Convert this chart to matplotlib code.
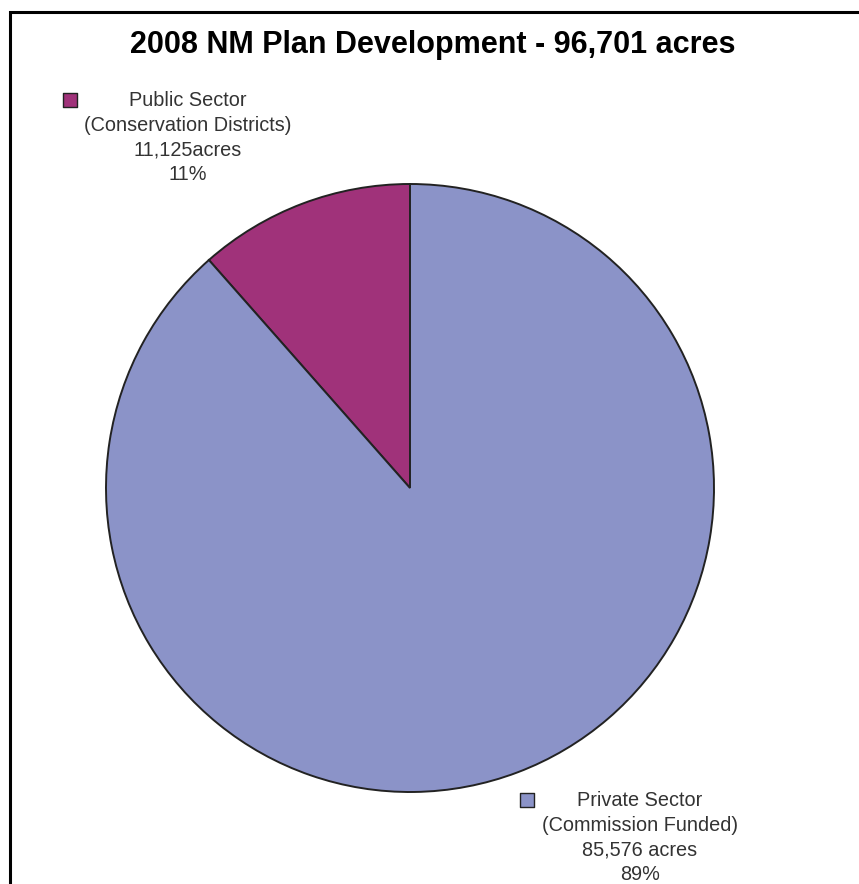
import matplotlib.pyplot as plt

# data
labels = ["Public Sector\n(Conservation Districts)\n11,125acres\n11%",
          "Private Sector\n(Commission Funded)\n85,576 acres\n89%"]
acres = [11125, 85576]
colors = ["#A0327A", "#8B93C8"]

W, H = 859, 884
fig = plt.figure(figsize=(W / 100, H / 100), dpi=100)
ax = fig.add_axes([0, 0, 1, 1])

# frame (only top and left edges are inside the picture)
ax.plot([10, 10, W], [0, H - 12, H - 12], color="black", linewidth=2.2,
        solid_joinstyle="miter")

ax.pie(acres, colors=colors, startangle=90, counterclock=True,
       center=(410, H - 488), radius=304,
       wedgeprops=dict(edgecolor="#222222", linewidth=1.4))
ax.set_xlim(0, W)
ax.set_ylim(0, H)
ax.set_aspect("equal")
ax.axis("off")

ax.text(433, H - 45, "2008 NM Plan Development - 96,701 acres",
        ha="center", va="center", fontsize=22, fontweight="bold",
        family="Liberation Sans")

# legend-style labels
marker_pos = [(70, H - 100), (527, H - 800)]
text_pos = [(188, H - 91), (640, H - 791)]
for lab, col, (mx, my), (tx, ty) in zip(labels, colors, marker_pos, text_pos):
    ax.scatter([mx], [my], marker="s", s=90, color=col,
               edgecolor="#222222", linewidth=1.0, zorder=5)
    ax.text(tx, ty, lab, ha="center", va="top", fontsize=14.3,
            color="#333333", family="Liberation Sans", linespacing=1.38)

fig.savefig("out.png", dpi=100)
